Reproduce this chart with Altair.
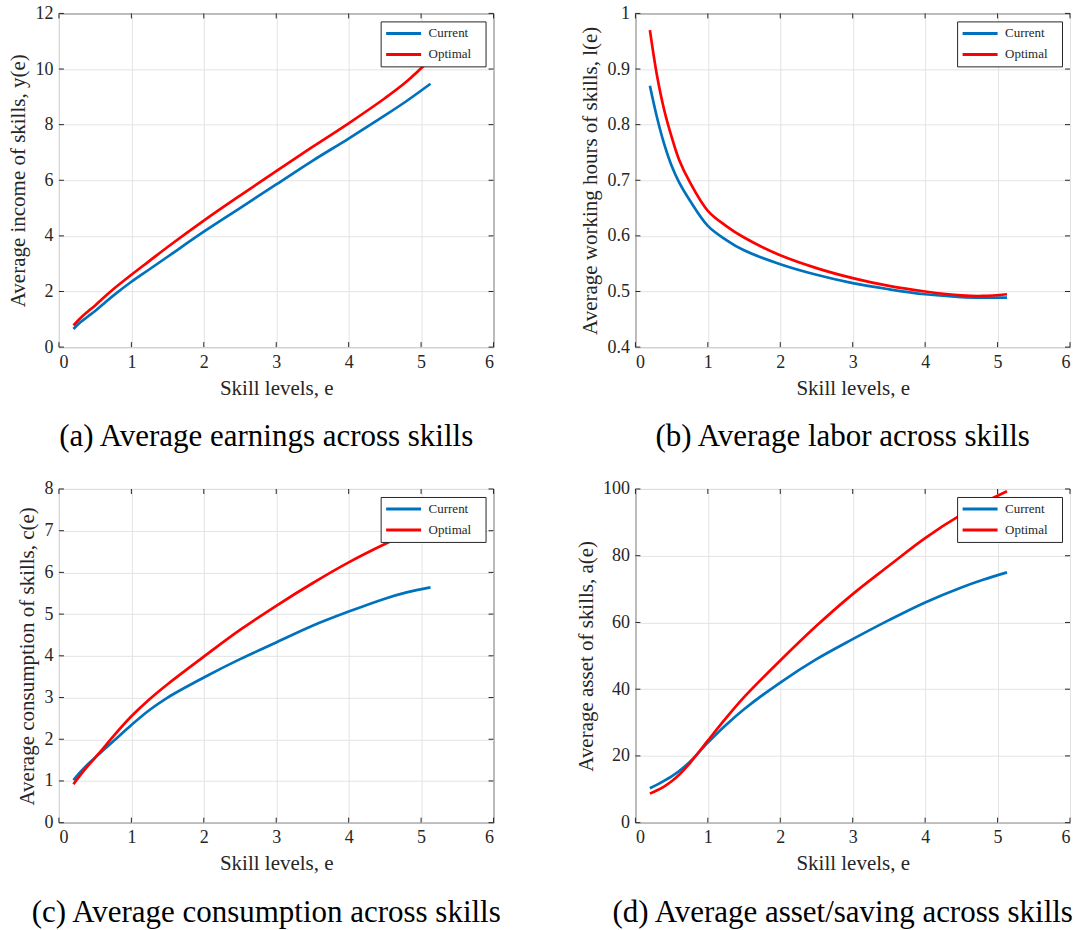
import altair as alt
import pandas as pd

# Skill grid shared by all four panels
skill = [0.2, 0.3, 0.4, 0.5, 0.6, 0.75, 1.0, 1.25, 1.5, 2.0, 2.5, 3.0, 3.5, 4.0, 4.5, 4.8, 5.13]

# (a) average income y(e)
income_current = [0.65, 0.9, 1.1, 1.3, 1.52, 1.85, 2.35, 2.8, 3.25, 4.15, 5.0, 5.85, 6.7, 7.5, 8.33, 8.85, 9.47]
income_optimal = [0.78, 1.05, 1.28, 1.5, 1.74, 2.08, 2.6, 3.1, 3.6, 4.55, 5.45, 6.33, 7.2, 8.05, 8.95, 9.55, 10.35]

# (b) average working hours l(e)
labor_current = [0.87, 0.812, 0.764, 0.726, 0.697, 0.664, 0.618, 0.593, 0.574, 0.549, 0.530, 0.515, 0.504, 0.495, 0.490, 0.489, 0.489]
labor_optimal = [0.97, 0.887, 0.825, 0.778, 0.738, 0.697, 0.645, 0.618, 0.597, 0.565, 0.542, 0.524, 0.510, 0.500, 0.493, 0.492, 0.495]

# (c) average consumption c(e)
cons_current = [1.02, 1.22, 1.40, 1.56, 1.72, 1.95, 2.34, 2.70, 3.0, 3.48, 3.92, 4.32, 4.72, 5.06, 5.37, 5.52, 5.64]
cons_optimal = [0.92, 1.15, 1.36, 1.56, 1.76, 2.07, 2.55, 2.96, 3.32, 3.98, 4.62, 5.2, 5.74, 6.24, 6.68, 6.92, 7.15]

# (d) average asset a(e)
asset_current = [10.3, 11.4, 12.6, 13.9, 15.4, 18.2, 24.0, 29.3, 34.0, 42.0, 49.0, 55.0, 60.7, 66.0, 70.5, 72.8, 75.0]
asset_optimal = [8.7, 9.7, 10.9, 12.4, 14.3, 17.8, 24.6, 31.3, 37.6, 48.6, 59.0, 68.5, 77.0, 85.3, 92.3, 95.8, 99.3]

series_names = ["Current", "Optimal"]
x_ticks = [0, 1, 2, 3, 4, 5, 6]

W, H = 435, 334
FONT = "Liberation Serif"
INK = "#262626"
BLUE = "#0072BD"
RED = "#FF0000"
TICK = 5

# trailing gap inside the legend box (a zero-width char keeps the spaces from being trimmed)
LABEL_TAIL = "\u00a0\u00a0\u00a0\u200b"


def long_frame(cur, opt):
    rows = []
    for name, vals in zip(series_names, [cur, opt]):
        for e, v in zip(skill, vals):
            rows.append({"e": e, "series": name, "value": v})
    return pd.DataFrame(rows)


def panel(cur, opt, ytitle, ydomain, yticks, caption):
    xs = alt.Scale(domain=[0, 6], nice=False, zero=False)
    ys = alt.Scale(domain=ydomain, nice=False, zero=False)
    xaxis = alt.Axis(values=x_ticks, format="~r", title="Skill levels, e")
    yaxis = alt.Axis(values=yticks, format="~r", title=ytitle)

    lines = alt.Chart(long_frame(cur, opt)).mark_line(
        strokeWidth=2.7, interpolate="catmull-rom"
    ).encode(
        x=alt.X("e:Q", scale=xs, axis=xaxis),
        y=alt.Y("value:Q", scale=ys, axis=yaxis),
        color=alt.Color(
            "series:N",
            scale=alt.Scale(domain=series_names, range=[BLUE, RED]),
            legend=alt.Legend(
                title=None, orient="top-right", offset=8,
                fillColor="white", strokeColor=INK, padding=4,
                symbolType="stroke", symbolSize=1225, symbolStrokeWidth=3,
                labelFont=FONT, labelFontSize=13, labelColor=INK,
                labelOffset=6, rowPadding=5, clipHeight=16,
                labelExpr=f"datum.label + '{LABEL_TAIL}'",
            ),
        ),
    )

    xt = pd.DataFrame({"e": x_ticks})
    yt = pd.DataFrame({"value": yticks})
    rule = dict(color=INK, strokeWidth=1)
    bottom = alt.Chart(xt).mark_rule(**rule).encode(
        x=alt.X("e:Q", scale=xs, axis=xaxis), y=alt.value(H - TICK), y2=alt.value(H))
    top = alt.Chart(xt).mark_rule(**rule).encode(
        x=alt.X("e:Q", scale=xs, axis=xaxis), y=alt.value(0), y2=alt.value(TICK))
    left = alt.Chart(yt).mark_rule(**rule).encode(
        y=alt.Y("value:Q", scale=ys, axis=yaxis), x=alt.value(0), x2=alt.value(TICK))
    right = alt.Chart(yt).mark_rule(**rule).encode(
        y=alt.Y("value:Q", scale=ys, axis=yaxis), x=alt.value(W - TICK), x2=alt.value(W))

    return alt.layer(lines, bottom, top, left, right).properties(
        width=W, height=H,
        title=alt.TitleParams(
            caption, orient="bottom", anchor="middle", frame="group",
            font=FONT, fontSize=31, fontWeight="normal", color="black",
            offset=24, dx=-10,
        ),
    )


pa = panel(income_current, income_optimal, "Average income of skills, y(e)",
           [0, 12], [0, 2, 4, 6, 8, 10, 12], "(a) Average earnings across skills")
pb = panel(labor_current, labor_optimal, "Average working hours of skills, l(e)",
           [0.4, 1.0], [0.4, 0.5, 0.6, 0.7, 0.8, 0.9, 1.0], "(b) Average labor across skills")
pc = panel(cons_current, cons_optimal, "Average consumption of skills, c(e)",
           [0, 8], [0, 1, 2, 3, 4, 5, 6, 7, 8], "(c) Average consumption across skills")
pd_ = panel(asset_current, asset_optimal, "Average asset of skills, a(e)",
            [0, 100], [0, 20, 40, 60, 80, 100], "(d) Average asset/saving across skills")

chart = alt.concat(
    pa, pb, pc, pd_, columns=2, spacing={"row": 26, "column": 72}
).resolve_scale(
    color="independent", x="independent", y="independent"
).properties(
    padding={"left": 7, "top": 3, "right": 0, "bottom": 0},
    background="white",
).configure_view(
    stroke=INK, strokeWidth=1,
).configure_axis(
    labelFont=FONT, labelFontSize=18, labelColor=INK,
    titleFont=FONT, titleFontSize=21, titleFontWeight="normal", titleColor=INK,
    gridColor="#e3e3e3", gridWidth=1,
    domain=False, ticks=False, labelPadding=6, titlePadding=6,
)

chart.save("out.html", embed_options={"renderer": "svg", "actions": False})
